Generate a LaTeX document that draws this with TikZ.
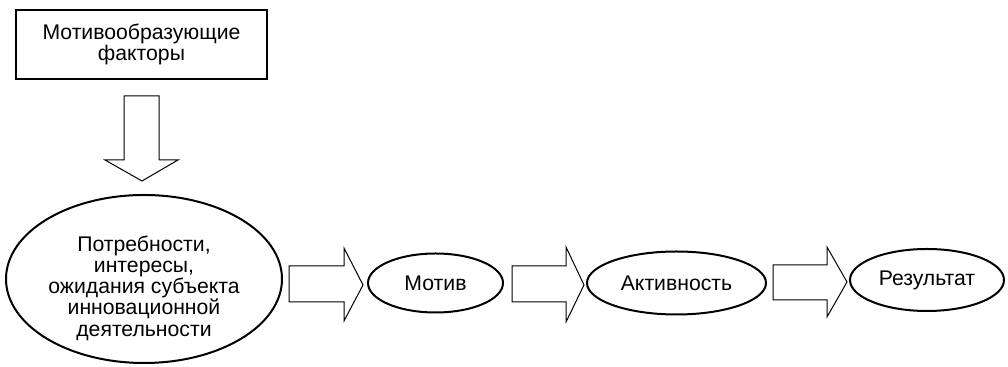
\documentclass[tikz,border=0pt]{standalone}
\usepackage{fontspec}
\setmainfont{Liberation Sans}
\usetikzlibrary{shapes.geometric}
\begin{document}
\begin{tikzpicture}[x=0.5pt,y=-0.5pt,
  every node/.style={font=\fontsize{10.6}{10.6}\selectfont, align=center, inner sep=0pt},
  every label/.style={font=\fontsize{10.6}{10.6}\selectfont, align=center, inner sep=0pt},
  oval/.style={draw, ellipse, line width=1pt},
  blockarrow/.style={draw, line width=0.5pt, line join=miter}]
\useasboundingbox (0,0) rectangle (1008,367);

\node[draw, line width=1pt, minimum width=125.5pt, minimum height=34.5pt] (fact) at (141.5,44.5) {Мотивообразующие\\факторы};

\node[oval, minimum width=138pt, minimum height=84pt,
  label={[yshift=-4.5pt]center:Потребности,\\интересы,\\ожидания субъекта\\инновационной\\деятельности}] (need) at (144,279) {};
\node[oval, minimum width=67.5pt, minimum height=29.5pt] (motive) at (435.5,283) {Мотив};
\node[oval, minimum width=89.5pt, minimum height=31.5pt] (act) at (676.5,283) {Активность};
\node[oval, minimum width=77pt, minimum height=31pt] (res) at (927,280) {Результат};

% block arrows
\draw[blockarrow] (124,96) -- (159,96) -- (159,160) -- (178,160) -- (142,181) -- (105,160) -- (124,160) -- cycle;
\draw[blockarrow] (289,266) -- (344,266) -- (344,248) -- (363,285) -- (344,321) -- (344,302) -- (289,302) -- cycle;
\draw[blockarrow] (512,266) -- (566,266) -- (566,247) -- (584,285) -- (566,322) -- (566,302) -- (512,302) -- cycle;
\draw[blockarrow] (773,265) -- (827,265) -- (827,247) -- (847,282) -- (827,317) -- (827,300) -- (773,300) -- cycle;
\end{tikzpicture}
\end{document}
